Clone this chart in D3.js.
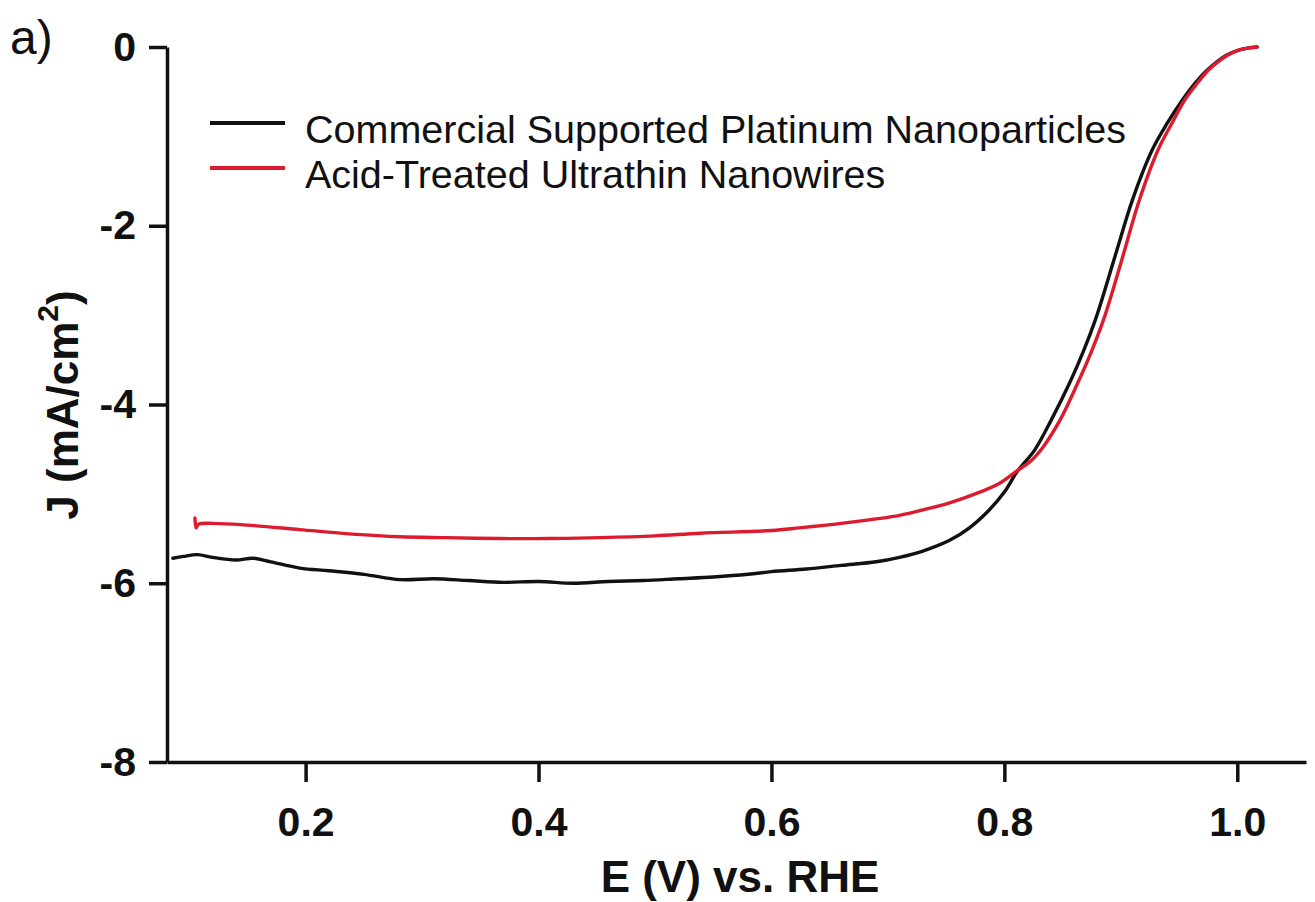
<!DOCTYPE html>
<html>
<head>
<meta charset="utf-8">
<script src="https://cdn.jsdelivr.net/npm/d3@7"></script>
<style>
  html, body { margin: 0; padding: 0; background: #fff; }
  svg { display: block; }
  text { font-family: "Liberation Sans", Arial, Helvetica, sans-serif; fill: #111; }
</style>
</head>
<body>
<svg id="chart" width="1315" height="902"></svg>
<script>
// ---- Data ----
const seriesNames = ["Commercial Supported Platinum Nanoparticles", "Acid-Treated Ultrathin Nanowires"];
const seriesColors = ["#111111", "#dc1c2e"];

const commercialE = [0.086,0.095,0.107,0.12,0.14,0.155,0.17,0.195,0.22,0.25,0.281,0.31,0.34,0.37,0.40,0.43,0.46,0.49,0.52,0.55,0.58,0.60,0.63,0.66,0.69,0.71,0.73,0.753,0.77,0.787,0.80,0.811,0.826,0.84,0.856,0.868,0.879,0.896,0.91,0.927,0.94,0.953,0.964,0.974,0.983,0.991,1.00,1.01,1.017];
const commercialJ = [-5.72,-5.70,-5.68,-5.71,-5.74,-5.72,-5.76,-5.83,-5.86,-5.90,-5.96,-5.95,-5.97,-5.99,-5.98,-6.00,-5.98,-5.97,-5.95,-5.93,-5.90,-5.87,-5.84,-5.80,-5.76,-5.71,-5.64,-5.52,-5.38,-5.18,-4.98,-4.75,-4.51,-4.18,-3.76,-3.40,-3.02,-2.30,-1.71,-1.15,-0.85,-0.59,-0.40,-0.26,-0.16,-0.09,-0.04,-0.01,0.0];

const nanowireE = [0.105,0.106,0.108,0.12,0.15,0.195,0.24,0.281,0.32,0.367,0.41,0.453,0.50,0.539,0.60,0.624,0.66,0.69,0.71,0.73,0.753,0.775,0.796,0.811,0.822,0.833,0.848,0.863,0.875,0.886,0.90,0.916,0.932,0.944,0.955,0.966,0.975,0.984,0.992,1.00,1.01,1.017];
const nanowireJ = [-5.27,-5.38,-5.34,-5.33,-5.35,-5.40,-5.45,-5.48,-5.49,-5.50,-5.50,-5.49,-5.47,-5.44,-5.41,-5.38,-5.33,-5.28,-5.24,-5.18,-5.10,-5.00,-4.88,-4.74,-4.64,-4.48,-4.17,-3.76,-3.40,-3.02,-2.42,-1.71,-1.15,-0.85,-0.59,-0.40,-0.26,-0.16,-0.09,-0.04,-0.01,0.0];

const xTicks = [0.2, 0.4, 0.6, 0.8, 1.0];
const yTicks = [0, -2, -4, -6, -8];
const xDomain = [0.081, 1.059];
const yDomain = [-8, 0];

// ---- Build ----
const svg = d3.select("#chart");
const x = d3.scaleLinear().domain(xDomain).range([167, 1306]);
const y = d3.scaleLinear().domain(yDomain).range([762, 47]);

const series = [
  { name: seriesNames[0], color: seriesColors[0], pts: commercialE.map((e, i) => [e, commercialJ[i]]) },
  { name: seriesNames[1], color: seriesColors[1], pts: nanowireE.map((e, i) => [e, nanowireJ[i]]) }
];

const line = d3.line().x(d => x(d[0])).y(d => y(d[1])).curve(d3.curveCatmullRom.alpha(0.5));

svg.append("g").selectAll("path").data(series).join("path")
  .attr("d", d => line(d.pts))
  .attr("fill", "none")
  .attr("stroke", d => d.color)
  .attr("stroke-width", 3.4)
  .attr("stroke-linejoin", "round")
  .attr("stroke-linecap", "round");

// Axes
const xAxis = svg.append("g").attr("transform", "translate(0,762)")
  .call(d3.axisBottom(x).tickValues(xTicks).tickFormat(d3.format(".1f")).tickSize(20).tickSizeOuter(0).tickPadding(25));
const yAxis = svg.append("g").attr("transform", "translate(167,0)")
  .call(d3.axisLeft(y).tickValues(yTicks).tickFormat(d => String(d)).tickSize(18).tickSizeOuter(0).tickPadding(13));

[xAxis, yAxis].forEach(a => {
  a.select(".domain").attr("stroke", "#111").attr("stroke-width", 3.5);
  a.selectAll(".tick line").attr("stroke", "#111").attr("stroke-width", 3.5);
  a.selectAll(".tick text").attr("font-size", 41).attr("font-weight", "bold")
    .attr("font-family", "'Liberation Sans', Arial, sans-serif").attr("fill", "#111");
});

// Axis titles
svg.append("text")
  .attr("x", 740).attr("y", 892)
  .attr("text-anchor", "middle")
  .attr("font-size", 44).attr("font-weight", "bold")
  .text("E (V) vs. RHE");

const yt = svg.append("text")
  .attr("transform", "translate(78,405) rotate(-90)")
  .attr("text-anchor", "middle")
  .attr("font-size", 44).attr("font-weight", "bold");
yt.append("tspan").text("J (mA/cm");
yt.append("tspan").attr("font-size", 30).attr("dy", -20).text("2");
yt.append("tspan").attr("dy", 20).text(")");

// Panel label
svg.append("text").attr("x", 10).attr("y", 54).attr("font-size", 48).text("a)");

// Legend
const lg = svg.append("g").selectAll("g").data(series).join("g")
  .attr("transform", (d, i) => `translate(210,${123 + i * 45})`);
lg.append("line").attr("x1", 0).attr("x2", 75).attr("y1", 0).attr("y2", 0)
  .attr("stroke", d => d.color).attr("stroke-width", 4);
lg.append("text").attr("x", 95).attr("y", 20).attr("font-size", 39.5).attr("fill", "#222")
  .text(d => d.name);
</script>
</body>
</html>
